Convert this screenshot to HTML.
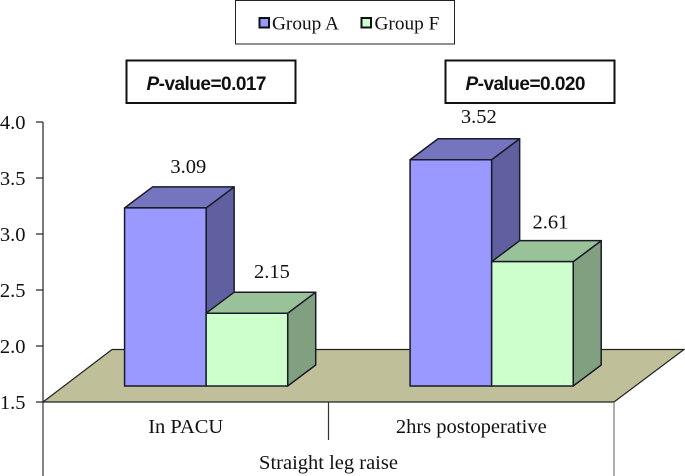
<!DOCTYPE html>
<html lang="en">
<head>
<meta charset="utf-8">
<title>Straight leg raise chart</title>
<style>
html,body{margin:0;padding:0;background:#fff;width:685px;height:476px;overflow:hidden}
svg{display:block}
text{font-family:"Liberation Serif",serif;fill:#111}
.pv{font-family:"Liberation Sans",sans-serif;font-weight:bold}
</style>
</head>
<body>
<svg id="chart" width="685" height="476" viewBox="0 0 685 476" xmlns="http://www.w3.org/2000/svg">
  <rect x="235.5" y="0.5" width="219" height="43.5" fill="#fff" stroke="#222" stroke-width="1"/>
  <g>
    <rect x="259.5" y="18" width="9.5" height="9.5" fill="#9999FF" stroke="#111" stroke-width="2"/>
    <text x="272" y="29.5" font-size="19.3">Group A</text>
  </g>
  <g>
    <rect x="361.5" y="18" width="9.5" height="9.5" fill="#CCFFCC" stroke="#111" stroke-width="2"/>
    <text x="374.5" y="29.5" font-size="19.3">Group F</text>
  </g>
  <g>
    <rect x="126.5" y="60.5" width="169" height="42.5" fill="#fff" stroke="#111" stroke-width="2"/>
    <text class="pv" x="146.5" y="90" font-size="19" textLength="120" lengthAdjust="spacing"><tspan font-style="italic">P</tspan>-value=0.017</text>
  </g>
  <g>
    <rect x="445.5" y="60.5" width="169" height="42.5" fill="#fff" stroke="#111" stroke-width="2"/>
    <text class="pv" x="465.5" y="90" font-size="19" textLength="120" lengthAdjust="spacing"><tspan font-style="italic">P</tspan>-value=0.020</text>
  </g>
  <polygon points="43,402 112,349.5 684,349.5 614,402" fill="#BFBF99" stroke="#222" stroke-width="1.2"/>
  <g id="y-axis"></g>
  <g id="bars"></g>
  <g id="x-axis"></g>
</svg>
<script>
const categories = ['In PACU', '2hrs postoperative'];
const groupA = [3.09, 3.52];
const groupF = [2.15, 2.61];
const yTicks = [1.5, 2.0, 2.5, 3.0, 3.5, 4.0];
const axisTitle = 'Straight leg raise';

const NS = 'http://www.w3.org/2000/svg';
const yMin = 1.5, unit = 112, axisBase = 402, frontBase = 386;
const plotLeft = 43, plotRight = 614, depthX = 28, depthY = 21;
const band = (plotRight - plotLeft) / categories.length;
const barW = band / 3.5;

function axisY(v) { return axisBase - (v - yMin) * unit; }
function frontY(v) { return frontBase - (v - yMin) * unit; }
function catX(i) { return plotLeft + i * band; }
function make(tag, attrs, parent) {
  const el = document.createElementNS(NS, tag);
  for (const k in attrs) el.setAttribute(k, attrs[k]);
  parent.appendChild(el);
  return el;
}

const yAxis = document.getElementById('y-axis');
const axisLine = make('line', {x1: plotLeft, x2: plotLeft, y1: axisY(yTicks[yTicks.length - 1]), y2: axisBase, stroke: '#222', 'stroke-width': 1.2}, yAxis);


yTicks.forEach(function (t) {
  const tick = make('line', {x1: plotLeft - 7, x2: plotLeft, y1: axisY(t), y2: axisY(t), stroke: '#222', 'stroke-width': 1.2}, yAxis);
  
  
  const label = make('text', {x: 25.5, y: axisY(t) + 7, 'text-anchor': 'end', 'font-size': 20.5}, yAxis);
  
  
  label.textContent = t.toFixed(1);
});

const barsRoot = document.getElementById('bars');
function drawBar(x, value, front, top, side, nameStr) {
  const y = frontY(value);
  const g = make('g', {stroke: '#1a1a2a', 'stroke-width': 1.5, 'stroke-linejoin': 'round'}, barsRoot);
  
  
  make('polygon', {points: [x + barW, y, x + barW + depthX, y - depthY, x + barW + depthX, frontBase - depthY, x + barW, frontBase].join(' '), fill: side}, g);
  make('polygon', {points: [x, y, x + depthX, y - depthY, x + barW + depthX, y - depthY, x + barW, y].join(' '), fill: top}, g);
  make('rect', {x: x, y: y, width: barW, height: frontBase - y, fill: front}, g);
}
function drawValue(x, value, lift, nameStr) {
  const t = make('text', {x: x, y: frontY(value) - lift, 'text-anchor': 'middle', 'font-size': 20.5}, barsRoot);
  
  
  t.textContent = value.toFixed(2);
}
categories.forEach(function (c, i) {
  const left = catX(i) + barW;
  drawBar(left, groupA[i], '#9999FF', '#7575BF', '#6060A0', 'bar-group-a-' + i);
  drawBar(left + barW, groupF[i], '#CCFFCC', '#99C299', '#80A080', 'bar-group-f-' + i);
});
categories.forEach(function (c, i) {
  const left = catX(i) + barW;
  drawValue(left + barW / 2 + (i ? 28 : 23), groupA[i], i ? 37 : 35, 'value-label-group-a-' + i);
  drawValue(left + barW * 1.5 + (i ? 18 : 25), groupF[i], i ? 33 : 35, 'value-label-group-f-' + i);
});

const xAxis = document.getElementById('x-axis');
const xLeft = make('line', {x1: plotLeft, x2: plotLeft, y1: axisBase, y2: 476, stroke: '#333', 'stroke-width': 1.2}, xAxis);


const xMid = make('line', {x1: catX(1), x2: catX(1), y1: axisBase, y2: 440, stroke: '#333', 'stroke-width': 1.2}, xAxis);


const xRight = make('line', {x1: plotRight, x2: plotRight, y1: axisBase, y2: 476, stroke: '#777', 'stroke-width': 1.2}, xAxis);


categories.forEach(function (c, i) {
  const t = make('text', {x: catX(i) + band / 2, y: 433, 'text-anchor': 'middle', 'font-size': 20.5}, xAxis);
  
  
  t.textContent = c;
});
const title = make('text', {x: (plotLeft + plotRight) / 2, y: 469, 'text-anchor': 'middle', 'font-size': 20.5}, xAxis);


title.textContent = axisTitle;
</script>
</body>
</html>
